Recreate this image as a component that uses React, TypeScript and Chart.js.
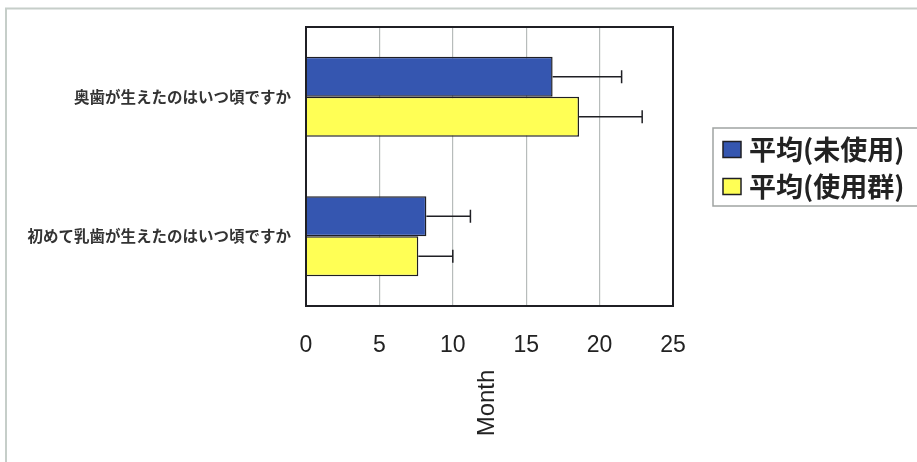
import React, { useEffect, useRef } from "react";
import { Chart, registerables } from "chart.js";

Chart.register(...registerables);

const categories = ["奥歯が生えたのはいつ頃ですか", "初めて乳歯が生えたのはいつ頃ですか"];
const seriesNames = ["平均(未使用)", "平均(使用群)"];
const unusedMean = [16.8, 8.2];
const usedMean = [18.6, 7.65];
const unusedErrTop = [21.5, 11.2];
const usedErrTop = [22.9, 10.0];
const xTicks = [0, 5, 10, 15, 20, 25];
const axisTitle = "Month";

const BLUE = "#3556B0";
const YELLOW = "#FFFF55";
const INK = "#1f1f24";

const errTops = [unusedErrTop, usedErrTop];

const decorPlugin = {
  id: "decor",
  beforeDraw(chart: any) {
    const ctx = chart.ctx;
    ctx.save();
    ctx.strokeStyle = "#c6cec9";
    ctx.lineWidth = 2;
    ctx.beginPath();
    ctx.moveTo(5, 8.5);
    ctx.lineTo(chart.width, 8.5);
    ctx.moveTo(6, 8);
    ctx.lineTo(6, chart.height);
    ctx.stroke();
    ctx.restore();
  },
  afterDatasetsDraw(chart: any) {
    const ctx = chart.ctx;
    const xs = chart.scales.x;
    ctx.save();
    ctx.strokeStyle = INK;
    ctx.lineWidth = 1.5;
    chart.data.datasets.forEach((ds: any, i: number) => {
      const meta = chart.getDatasetMeta(i);
      meta.data.forEach((bar: any, j: number) => {
        const end = xs.getPixelForValue(errTops[i][j]);
        const y = bar.y;
        ctx.beginPath();
        ctx.moveTo(bar.x, y);
        ctx.lineTo(end, y);
        ctx.moveTo(end, y - 6.5);
        ctx.lineTo(end, y + 6.5);
        ctx.stroke();
      });
    });
    ctx.restore();
  },
  afterDraw(chart: any) {
    const ctx = chart.ctx;
    const a = chart.chartArea;
    ctx.save();
    ctx.strokeStyle = INK;
    ctx.lineWidth = 2;
    ctx.strokeRect(a.left, a.top, a.right - a.left, a.bottom - a.top);

    ctx.fillStyle = "#222";
    ctx.font = '24px "Liberation Sans", Arial, sans-serif';
    ctx.textAlign = "center";
    ctx.textBaseline = "middle";
    ctx.translate((a.left + a.right) / 2 - 2, 403);
    ctx.rotate(-Math.PI / 2);
    ctx.fillText(axisTitle, 0, 0);
    ctx.restore();

    ctx.save();
    const lx = 713, ly = 128, lw = 210, lh = 78;
    ctx.fillStyle = "#fff";
    ctx.fillRect(lx, ly, lw, lh);
    ctx.strokeStyle = "#a0a4a2";
    ctx.lineWidth = 1.5;
    ctx.strokeRect(lx, ly, lw, lh);
    const rows = [149.5, 186.5];
    chart.data.datasets.forEach((ds: any, i: number) => {
      const cy = rows[i];
      ctx.fillStyle = ds.backgroundColor;
      ctx.fillRect(723, cy - 8, 18, 16);
      ctx.strokeStyle = INK;
      ctx.lineWidth = 1.5;
      ctx.strokeRect(723, cy - 8, 18, 16);
      ctx.fillStyle = "#222";
      ctx.font = 'bold 27px "Noto Sans CJK JP", sans-serif';
      ctx.textAlign = "left";
      ctx.textBaseline = "middle";
      ctx.fillText(ds.label, 749, cy);
    });
    ctx.restore();
  },
};

export default function App() {
  const ref = useRef<HTMLCanvasElement | null>(null);
  useEffect(() => {
    if (!ref.current) return;
    const chart = new Chart(ref.current, {
      type: "bar",
      data: {
        labels: categories,
        datasets: [
          {
            label: seriesNames[0],
            data: unusedMean,
            backgroundColor: BLUE,
            borderColor: INK,
            borderWidth: 1.5,
          },
          {
            label: seriesNames[1],
            data: usedMean,
            backgroundColor: YELLOW,
            borderColor: INK,
            borderWidth: 1.5,
          },
        ],
      },
      options: {
        indexAxis: "y",
        animation: false,
        responsive: true,
        maintainAspectRatio: false,
        layout: { padding: { top: 27, right: 244, left: 0, bottom: 0 } },
        datasets: { bar: { barPercentage: 1, categoryPercentage: 0.575 } },
        plugins: { legend: { display: false }, tooltip: { enabled: false } },
        scales: {
          x: {
            type: "linear",
            min: 0,
            max: 25,
            afterBuildTicks: (s: any) => {
              s.ticks = xTicks.map((v) => ({ value: v }));
            },
            afterFit: (s: any) => {
              s.height = 156;
            },
            border: { display: false },
            grid: {
              drawTicks: false,
              color: (c: any) =>
                c.tick && (c.tick.value === 0 || c.tick.value === 25) ? "rgba(0,0,0,0)" : "#b7bcbb",
              lineWidth: 1.2,
            },
            ticks: {
              padding: 26,
              color: "#222",
              font: { family: '"Liberation Sans", Arial, sans-serif', size: 23 },
            },
          },
          y: {
            type: "category",
            afterFit: (s: any) => {
              s.width = 306;
            },
            border: { display: false },
            grid: { display: false, drawTicks: false },
            ticks: {
              padding: 15,
              color: "#333",
              font: { family: '"Noto Sans CJK JP", sans-serif', size: 15.5, weight: "bold" },
            },
          },
        },
      },
      plugins: [decorPlugin],
    });
    return () => chart.destroy();
  }, []);

  return (
    <div style={{ position: "fixed", left: 0, top: 0, width: 917, height: 462, background: "#fff" }}>
      <canvas ref={ref} />
    </div>
  );
}
